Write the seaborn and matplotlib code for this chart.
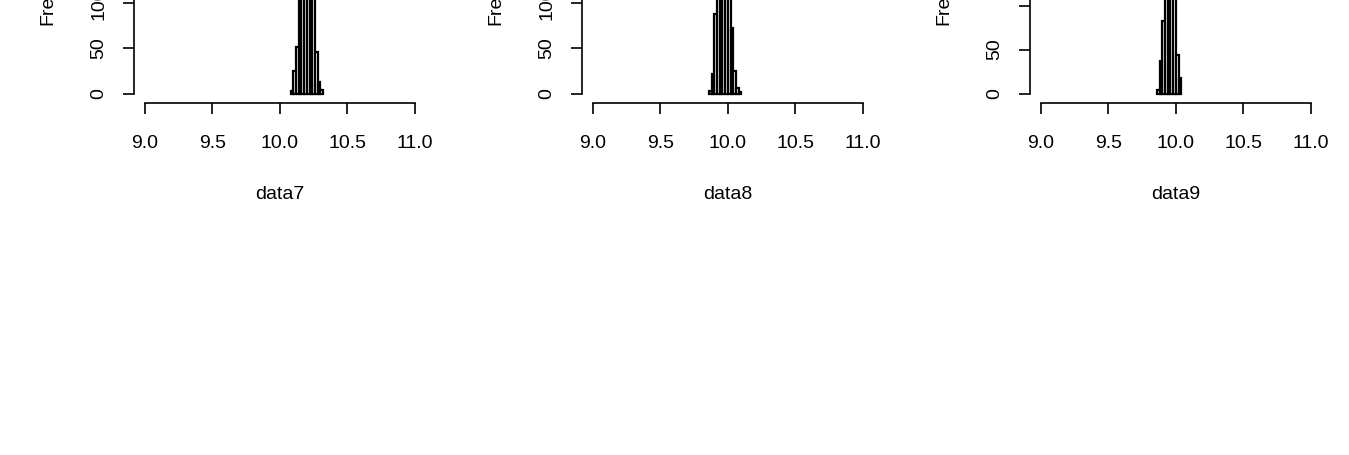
import numpy as np
import matplotlib
matplotlib.use("Agg")
import matplotlib.pyplot as plt
import seaborn as sns

# histogram breaks and counts (tall bars run past the top edge)
breaks7 = [10.08, 10.10, 10.12, 10.14, 10.16, 10.18, 10.20, 10.22, 10.24, 10.26, 10.28, 10.30, 10.32]
counts7 = [3, 25, 52, 112, 180, 255, 210, 150, 106, 46, 13, 4]
breaks8 = [9.86, 9.88, 9.90, 9.92, 9.94, 9.96, 9.98, 10.00, 10.02, 10.04, 10.06, 10.08, 10.10]
counts8 = [3, 22, 88, 140, 215, 255, 190, 120, 73, 25, 6, 2]
breaks9 = [9.86, 9.88, 9.90, 9.92, 9.94, 9.96, 9.98, 10.00, 10.02, 10.04]
counts9 = [4, 37, 82, 150, 261, 230, 128, 44, 18]

names = ["data7", "data8", "data9"]
x_ticks = [9.0, 9.5, 10.0, 10.5, 11.0]
x_ticklabels = ["9.0", "9.5", "10.0", "10.5", "11.0"]
y_ticks = [0, 50, 100, 150, 200, 250]
y_ticklabels = [
    ["0", "50", "100", "150", "200", "250"],
    ["0", "50", "100", "150", "200", "250"],
    ["0", "50", "", "150", "200", "250"],
]

sns.set_style("ticks")
plt.rcParams['font.family'] = ['Liberation Sans', 'DejaVu Sans']
plt.rcParams['font.size'] = 14
plt.rcParams['text.color'] = 'black'
plt.rcParams['axes.labelcolor'] = 'black'
plt.rcParams['xtick.color'] = 'black'
plt.rcParams['ytick.color'] = 'black'

fig = plt.figure(figsize=(13.49, 4.55), dpi=100)
W, H = 1349, 455

panels = [(breaks7, counts7), (breaks8, counts8), (breaks9, counts9)]
for i, (br, cn) in enumerate(panels):
    # plot region: R-style 4% padding; part of it lies above the figure (cropped)
    ax = fig.add_axes([(134 + 448 * i) / W, 352.3 / H, 291.6 / W, 248 / H])
    edges = np.array(br)
    mids = (edges[:-1] + edges[1:]) / 2
    sns.histplot(x=list(mids), weights=list(cn), bins=list(br), ax=ax, color='white',
                 edgecolor='black', linewidth=1.6, alpha=1)
    top = max(cn)
    ax.set_xlim(8.92, 11.08)
    ax.set_ylim(-0.04 * top, 1.04 * top)
    ax.set_xticks(x_ticks, x_ticklabels)
    ax.set_yticks(y_ticks)
    ax.set_yticklabels(y_ticklabels[i], rotation=90, va='center')
    for side in ['top', 'right']:
        ax.spines[side].set_visible(False)
    ax.spines['left'].set_bounds(0, 250)
    ax.spines['bottom'].set_bounds(9, 11)
    for side in ['left', 'bottom']:
        ax.spines[side].set_linewidth(1.2)
        ax.spines[side].set_color('black')
    ax.tick_params(axis='both', which='major', bottom=True, left=True, direction='out',
                   length=8, width=1.2, colors='black', labelcolor='black', labelsize=14)
    ax.tick_params(axis='x', pad=15)
    ax.tick_params(axis='y', pad=11)
    ax.set_xlabel(names[i], fontsize=14, labelpad=25, color='black')
    ax.set_ylabel("Frequency", fontsize=14, labelpad=25, color='black')

fig.savefig("out.png", dpi=100)
